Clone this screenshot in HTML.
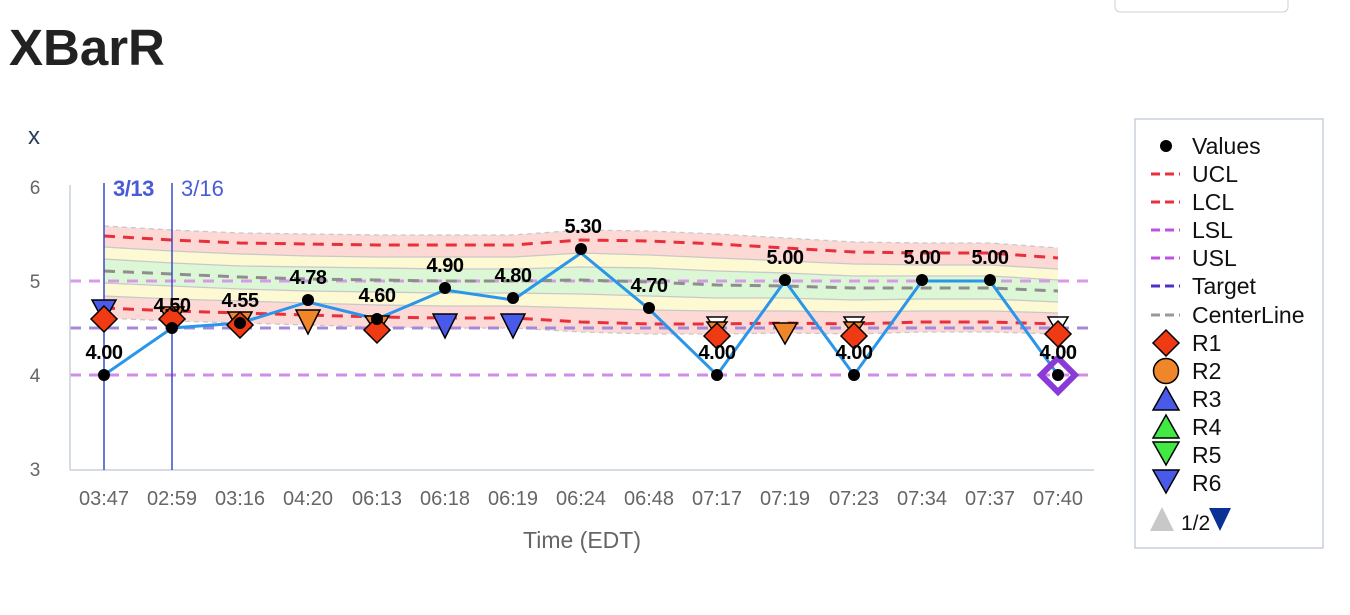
<!DOCTYPE html>
<html><head><meta charset="utf-8"><style>
body{margin:0;background:#fff;width:1350px;height:610px;overflow:hidden;font-family:"Liberation Sans",Arial,sans-serif}
</style></head><body>
<svg width="1350" height="610" xmlns="http://www.w3.org/2000/svg" font-family="Liberation Sans, Arial, sans-serif">
<rect x="1115" y="-8" width="173" height="20" rx="5" fill="#fff" stroke="#d0d0d0"/>
<text x="9" y="65" font-size="51" font-weight="bold" fill="#222">XBarR</text>
<text x="28" y="144" font-size="24" fill="#2c3e5a">x</text>
<g font-size="19" fill="#666" text-anchor="middle">
<text x="35" y="194">6</text><text x="35" y="288">5</text><text x="35" y="382">4</text><text x="35" y="476">3</text>
</g>
<polygon fill="#fdd9d6" points="104,226 172,230 240,233 308,234 377,235 445,235 513,235 581,230 649,231 717,234 785,238 854,242 922,243 990,243 1058,248 1058,334 990,332 922,332 854,334 785,333 717,334 649,334 581,332 513,328 445,328 377,327 308,325 240,323 172,321 104,318"/>
<polygon fill="#fdf9d2" points="104,247 172,251 240,254 308,256 377,257 445,257 513,257 581,253 649,255 717,258 785,261 854,264 922,265 990,265 1058,269 1058,313 990,311 922,311 854,312 785,311 717,311 649,310 581,308 513,306 445,306 377,305 308,303 240,301 172,299 104,296"/>
<polygon fill="#dcf7d6" points="104,259 172,263 240,266 308,267 377,268 445,269 513,269 581,267 649,268 717,271 785,273 854,276 922,276 990,276 1058,280 1058,302 990,299 922,299 854,300 785,298 717,298 649,296 581,294 513,293 445,293 377,292 308,291 240,289 172,286 104,283"/>
<g fill="none" stroke="#c8c8c8" stroke-width="1.3">
<polyline points="104,247 172,251 240,254 308,256 377,257 445,257 513,257 581,253 649,255 717,258 785,261 854,264 922,265 990,265 1058,269"/>
<polyline points="104,259 172,263 240,266 308,267 377,268 445,269 513,269 581,267 649,268 717,271 785,273 854,276 922,276 990,276 1058,280"/>
<polyline points="104,283 172,286 240,289 308,291 377,292 445,293 513,293 581,294 649,296 717,298 785,298 854,300 922,299 990,299 1058,302"/>
<polyline points="104,296 172,299 240,301 308,303 377,305 445,306 513,306 581,308 649,310 717,311 785,311 854,312 922,311 990,311 1058,313"/>
<polyline stroke-dasharray="5,4" points="104,226 172,230 240,233 308,234 377,235 445,235 513,235 581,230 649,231 717,234 785,238 854,242 922,243 990,243 1058,248"/>
<polyline stroke-dasharray="5,4" points="104,318 172,321 240,323 308,325 377,327 445,328 513,328 581,332 649,334 717,334 785,333 854,334 922,332 990,332 1058,334"/>
</g>
<g stroke-width="3" stroke-dasharray="11,8" fill="none">
<line x1="70" y1="281" x2="1094" y2="281" stroke="#d69ae8"/>
<line x1="70" y1="375" x2="1094" y2="375" stroke="#d08ce8"/>
<line x1="70" y1="328" x2="1094" y2="328" stroke="#a48ad6"/>
<polyline stroke="#e8303c" points="104,236 172,240 240,243 308,244 377,245 445,245 513,245 581,240 649,241 717,244 785,248 854,252 922,253 990,253 1058,258"/>
<polyline stroke="#e8303c" points="104,308 172,311 240,313 308,315 377,317 445,318 513,318 581,322 649,324 717,324 785,323 854,324 922,322 990,322 1058,324"/>
<polyline stroke="#8e8e8e" points="104,271 172,274 240,277 308,279 377,280 445,281 513,281 581,280 649,282 717,285 785,286 854,288 922,288 990,288 1058,291"/>
</g>
<line x1="70" y1="185" x2="70" y2="470" stroke="#c8d0dc" stroke-width="1.5"/>
<line x1="70" y1="470" x2="1094" y2="470" stroke="#c8d0dc" stroke-width="1.5"/>
<line x1="104" y1="183" x2="104" y2="470" stroke="#3b4bc8" stroke-width="1.5"/>
<line x1="172" y1="183" x2="172" y2="470" stroke="#3b4bc8" stroke-width="1.5"/>
<text x="113" y="196" font-size="22" font-weight="bold" fill="#4a5bd8" letter-spacing="-0.5">3/13</text>
<text x="181" y="196" font-size="22" fill="#4a5bd8">3/16</text>
<polyline fill="none" stroke="#2a96ea" stroke-width="3" points="104,375 172,328 240,323 308,302 377,319 445,290 513,300 581,253 649,309 717,375 785,281 854,375 922,281 990,281 1058,375"/>
<g stroke="#000" stroke-width="1.5">
<polygon fill="#4a5ae8" points="92,300 116,300 104,322"/>
<polygon fill="#f0862a" points="160,307 184,307 172,329"/>
<polygon fill="#f0862a" points="228,312 252,312 240,334"/>
<polygon fill="#f0862a" points="296,310 320,310 308,334"/>
<polygon fill="#f0862a" points="365,316 389,316 377,334"/>
<polygon fill="#4a5ae8" points="433,314 457,314 445,338"/>
<polygon fill="#4a5ae8" points="501,314 525,314 513,338"/>
<polygon fill="#fff" points="707,317 727,317 717,332"/>
<polygon fill="#f0862a" points="707,322 727,322 717,336"/>
<polygon fill="#f0862a" points="773,323 797,323 785,344"/>
<polygon fill="#fff" points="844,317 864,317 854,332"/>
<polygon fill="#f0862a" points="844,322 864,322 854,336"/>
<polygon fill="#fff" points="1048,317 1068,317 1058,334"/>
<polygon fill="#f03a14" points="104,306 117,319 104,332 91,319"/>
<polygon fill="#f03a14" points="172,306 185,319 172,332 159,319"/>
<polygon fill="#f03a14" points="240,312 253,325 240,338 227,325"/>
<polygon fill="#f03a14" points="377,317 390,330 377,343 364,330"/>
<polygon fill="#f03a14" points="717,323 730,336 717,349 704,336"/>
<polygon fill="#f03a14" points="854,323 867,336 854,349 841,336"/>
<polygon fill="#f03a14" points="1058,321 1071,334 1058,347 1045,334"/>
</g>
<polygon fill="none" stroke="#8a3ad8" stroke-width="6" points="1058,358 1075,375 1058,392 1041,375"/>
<g fill="#000">
<circle cx="104" cy="375" r="6"/><circle cx="172" cy="328" r="6"/><circle cx="240" cy="323" r="6"/><circle cx="308" cy="300" r="6"/><circle cx="377" cy="319" r="6"/><circle cx="445" cy="288" r="6"/><circle cx="513" cy="298" r="6"/><circle cx="581" cy="249" r="6"/><circle cx="649" cy="308" r="6"/><circle cx="717" cy="375" r="6"/><circle cx="785" cy="280" r="6"/><circle cx="854" cy="375" r="6"/><circle cx="922" cy="280" r="6"/><circle cx="990" cy="280" r="6"/><circle cx="1058" cy="375" r="6"/>
</g>
<g font-size="20" font-weight="bold" fill="#000" text-anchor="middle" letter-spacing="-0.5">
<text x="104" y="359">4.00</text><text x="172" y="312">4.50</text><text x="240" y="307">4.55</text><text x="308" y="284">4.78</text><text x="377" y="302">4.60</text><text x="445" y="272">4.90</text><text x="513" y="282">4.80</text><text x="583" y="233">5.30</text><text x="649" y="292">4.70</text><text x="717" y="359">4.00</text><text x="785" y="264">5.00</text><text x="854" y="359">4.00</text><text x="922" y="264">5.00</text><text x="990" y="264">5.00</text><text x="1058" y="359">4.00</text>
</g>
<g font-size="20" fill="#666" text-anchor="middle">
<text x="104" y="505">03:47</text><text x="172" y="505">02:59</text><text x="240" y="505">03:16</text><text x="308" y="505">04:20</text><text x="377" y="505">06:13</text><text x="445" y="505">06:18</text><text x="513" y="505">06:19</text><text x="581" y="505">06:24</text><text x="649" y="505">06:48</text><text x="717" y="505">07:17</text><text x="785" y="505">07:19</text><text x="854" y="505">07:23</text><text x="922" y="505">07:34</text><text x="990" y="505">07:37</text><text x="1058" y="505">07:40</text>
<text x="582" y="548" font-size="23">Time (EDT)</text>
</g>
<rect x="1135" y="119" width="188" height="429" fill="#fff" stroke="#c8d0dc" stroke-width="1.5"/>
<g font-size="23" fill="#111">
<circle cx="1166" cy="146" r="6" fill="#000"/><text x="1192" y="154">Values</text>
<line x1="1151" y1="174" x2="1180" y2="174" stroke="#e8303c" stroke-width="3" stroke-dasharray="9,5"/><text x="1192" y="182">UCL</text>
<line x1="1151" y1="202" x2="1180" y2="202" stroke="#e8303c" stroke-width="3" stroke-dasharray="9,5"/><text x="1192" y="210">LCL</text>
<line x1="1151" y1="230" x2="1180" y2="230" stroke="#c050e0" stroke-width="3" stroke-dasharray="9,5"/><text x="1192" y="238">LSL</text>
<line x1="1151" y1="258" x2="1180" y2="258" stroke="#c050e0" stroke-width="3" stroke-dasharray="9,5"/><text x="1192" y="266">USL</text>
<line x1="1151" y1="286" x2="1180" y2="286" stroke="#5030c8" stroke-width="3" stroke-dasharray="9,5"/><text x="1192" y="294">Target</text>
<line x1="1151" y1="315" x2="1180" y2="315" stroke="#999" stroke-width="3" stroke-dasharray="9,5"/><text x="1192" y="323">CenterLine</text>
<polygon fill="#f03a14" stroke="#000" stroke-width="1.5" points="1166,330 1179,343 1166,356 1153,343"/><text x="1192" y="351">R1</text>
<circle cx="1166" cy="371" r="12.5" fill="#f0862a" stroke="#000" stroke-width="1.5"/><text x="1192" y="379">R2</text>
<polygon fill="#4a5ae8" stroke="#000" stroke-width="1.5" points="1166,387 1179,410 1153,410"/><text x="1192" y="407">R3</text>
<polygon fill="#44e844" stroke="#000" stroke-width="1.5" points="1166,415 1179,438 1153,438"/><text x="1192" y="435">R4</text>
<polygon fill="#44e844" stroke="#000" stroke-width="1.5" points="1153,442 1179,442 1166,465"/><text x="1192" y="463">R5</text>
<polygon fill="#4a5ae8" stroke="#000" stroke-width="1.5" points="1153,470 1179,470 1166,493"/><text x="1192" y="491">R6</text>
<polygon fill="#c8c8c8" points="1162,507 1174,531 1150,531"/><text x="1181" y="530" font-size="21">1/2</text>
<polygon fill="#0a3296" points="1209,508 1231,508 1220,531"/>
</g>
</svg>
</body></html>
